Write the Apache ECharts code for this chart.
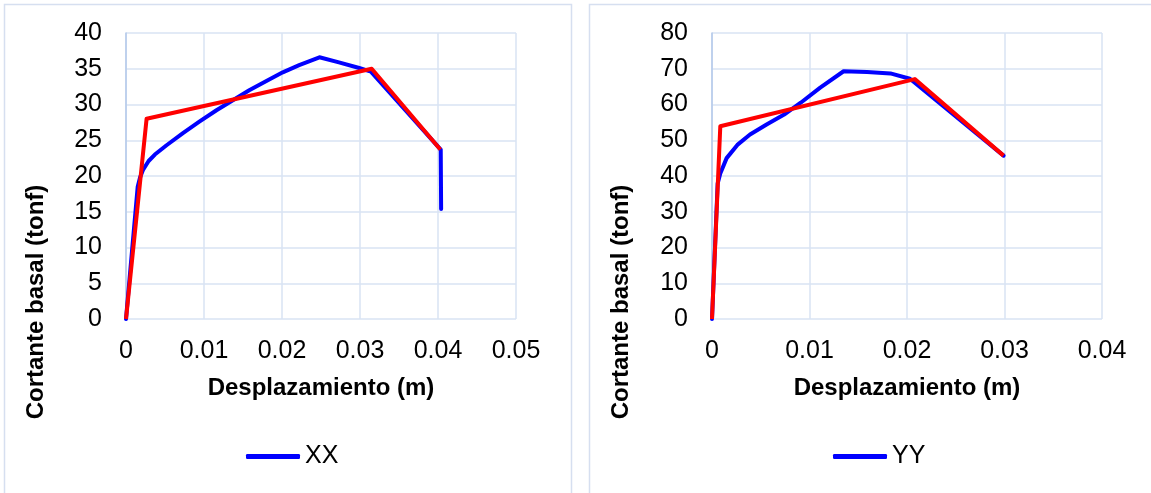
<!DOCTYPE html>
<html>
<head>
<meta charset="utf-8">
<script src="https://cdn.jsdelivr.net/npm/echarts@6/dist/echarts.min.js"></script>
<style>
  html, body { margin: 0; padding: 0; background: #ffffff; }
  #chart { width: 1151px; height: 493px; }
</style>
</head>
<body>
<div id="chart"></div>
<script>
// ---- Data: XX direction (capacity curve + bilinear idealisation) ----
const xxDisp  = [0, 0.0015, 0.0018, 0.0022, 0.0029, 0.0037, 0.0052, 0.0073, 0.0094, 0.0116, 0.0137, 0.0158, 0.0180, 0.0201, 0.0222, 0.0248, 0.0273, 0.0299, 0.0314, 0.04035, 0.0404];
const xxShear = [0, 18.5, 19.8, 20.9, 22.1, 23.0, 24.3, 26.0, 27.6, 29.2, 30.6, 32.0, 33.3, 34.5, 35.5, 36.6, 35.9, 35.1, 34.6, 23.7, 15.4];
const xxBiDisp  = [0, 0.00264, 0.0315, 0.0403];
const xxBiShear = [0, 28.0, 35.0, 23.7];

// ---- Data: YY direction ----
const yyDisp  = [0, 0.00058, 0.00085, 0.0015, 0.0026, 0.0039, 0.0056, 0.0074, 0.0091, 0.0111, 0.0135, 0.0159, 0.0183, 0.0203, 0.0299];
const yyShear = [0, 37.9, 40.7, 45.0, 48.7, 51.6, 54.4, 57.2, 60.5, 64.7, 69.3, 69.1, 68.7, 67.2, 45.7];
const yyBiDisp  = [0, 0.00085, 0.0208, 0.0299];
const yyBiShear = [0, 53.9, 67.1, 45.7];

// ---- Axis settings ----
const xxXMax = 0.05, xxYMax = 40, xxYStep = 5;
const yyXMax = 0.04, yyYMax = 80, yyYStep = 10;
const xStep = 0.01;

const seriesNames = ['XX', 'YY'];
const xTitle = 'Desplazamiento (m)';
const yTitle = 'Cortante basal (tonf)';

function zip(a, b) { return a.map((v, i) => [v, b[i]]); }

const FONT = "'Liberation Sans', Arial, sans-serif";
const gridColor = '#d9e3f3';
const axisBlue = '#b3c8ea';

function xAxisCfg(idx, max) {
  return {
    type: 'value', gridIndex: idx, min: 0, max: max, interval: xStep,
    axisLine: { show: false }, axisTick: { show: false },
    splitLine: { show: true, lineStyle: { color: gridColor, width: 1.5 } },
    axisLabel: { fontSize: 25, color: '#000', fontFamily: FONT, margin: 20,
      formatter: v => (Math.round(v * 100) / 100).toString() }
  };
}
function yAxisCfg(idx, max, step) {
  return {
    type: 'value', gridIndex: idx, min: 0, max: max, interval: step,
    axisLine: { show: true, lineStyle: { color: axisBlue, width: 1.5 } },
    axisTick: { show: false },
    splitLine: { show: true, lineStyle: { color: gridColor, width: 1.5 } },
    axisLabel: { fontSize: 25, color: '#000', fontFamily: FONT, margin: 24 }
  };
}

const chart = echarts.init(document.getElementById('chart'), null, { renderer: 'canvas' });
chart.setOption({
  animation: false,
  backgroundColor: '#ffffff',
  grid: [
    { left: 126, top: 33, width: 390, height: 286 },
    { left: 712, top: 33, width: 390, height: 286 }
  ],
  xAxis: [xAxisCfg(0, xxXMax), xAxisCfg(1, yyXMax)],
  yAxis: [yAxisCfg(0, xxYMax, xxYStep), yAxisCfg(1, yyYMax, yyYStep)],
  legend: [
    { data: [seriesNames[0]], left: 246, top: 444, padding: 0, icon: 'roundRect',
      itemWidth: 54, itemHeight: 5, itemStyle: { color: '#0000ff' },
      textStyle: { fontSize: 25, color: '#000', fontFamily: FONT } },
    { data: [seriesNames[1]], left: 833, top: 444, padding: 0, icon: 'roundRect',
      itemWidth: 54, itemHeight: 5, itemStyle: { color: '#0000ff' },
      textStyle: { fontSize: 25, color: '#000', fontFamily: FONT } }
  ],
  series: [
    { name: seriesNames[0], type: 'line', xAxisIndex: 0, yAxisIndex: 0, data: zip(xxDisp, xxShear),
      showSymbol: false, symbol: 'none', smooth: false, lineStyle: { color: '#0000ff', width: 4, cap: 'round', join: 'round' }, itemStyle: { color: '#0000ff' }, z: 2 },
    { name: 'Bilineal XX', type: 'line', xAxisIndex: 0, yAxisIndex: 0, data: zip(xxBiDisp, xxBiShear),
      showSymbol: false, symbol: 'none', lineStyle: { color: '#ff0000', width: 4, join: 'round' }, itemStyle: { color: '#ff0000' }, z: 3 },
    { name: seriesNames[1], type: 'line', xAxisIndex: 1, yAxisIndex: 1, data: zip(yyDisp, yyShear),
      showSymbol: false, symbol: 'none', smooth: false, lineStyle: { color: '#0000ff', width: 4, cap: 'round', join: 'round' }, itemStyle: { color: '#0000ff' }, z: 2 },
    { name: 'Bilineal YY', type: 'line', xAxisIndex: 1, yAxisIndex: 1, data: zip(yyBiDisp, yyBiShear),
      showSymbol: false, symbol: 'none', lineStyle: { color: '#ff0000', width: 4, join: 'round' }, itemStyle: { color: '#ff0000' }, z: 3 }
  ],
  graphic: [
    { type: 'rect', shape: { x: 4.5, y: 4.5, width: 567, height: 520 }, style: { fill: 'none', stroke: '#d6dff0', lineWidth: 1.5 }, silent: true, z: -10 },
    { type: 'rect', shape: { x: 589.5, y: 4.5, width: 620, height: 520 }, style: { fill: 'none', stroke: '#d6dff0', lineWidth: 1.5 }, silent: true, z: -10 },
    { type: 'text', x: 321, y: 388, style: { text: xTitle, font: 'bold 24px ' + FONT, fill: '#000', textAlign: 'center', textVerticalAlign: 'middle' } },
    { type: 'text', x: 907, y: 388, style: { text: xTitle, font: 'bold 24px ' + FONT, fill: '#000', textAlign: 'center', textVerticalAlign: 'middle' } },
    { type: 'text', x: 36, y: 302, rotation: Math.PI / 2, style: { text: yTitle, font: 'bold 24px ' + FONT, fill: '#000', textAlign: 'center', textVerticalAlign: 'middle' } },
    { type: 'text', x: 621, y: 302, rotation: Math.PI / 2, style: { text: yTitle, font: 'bold 24px ' + FONT, fill: '#000', textAlign: 'center', textVerticalAlign: 'middle' } }
  ]
});
</script>
</body>
</html>
